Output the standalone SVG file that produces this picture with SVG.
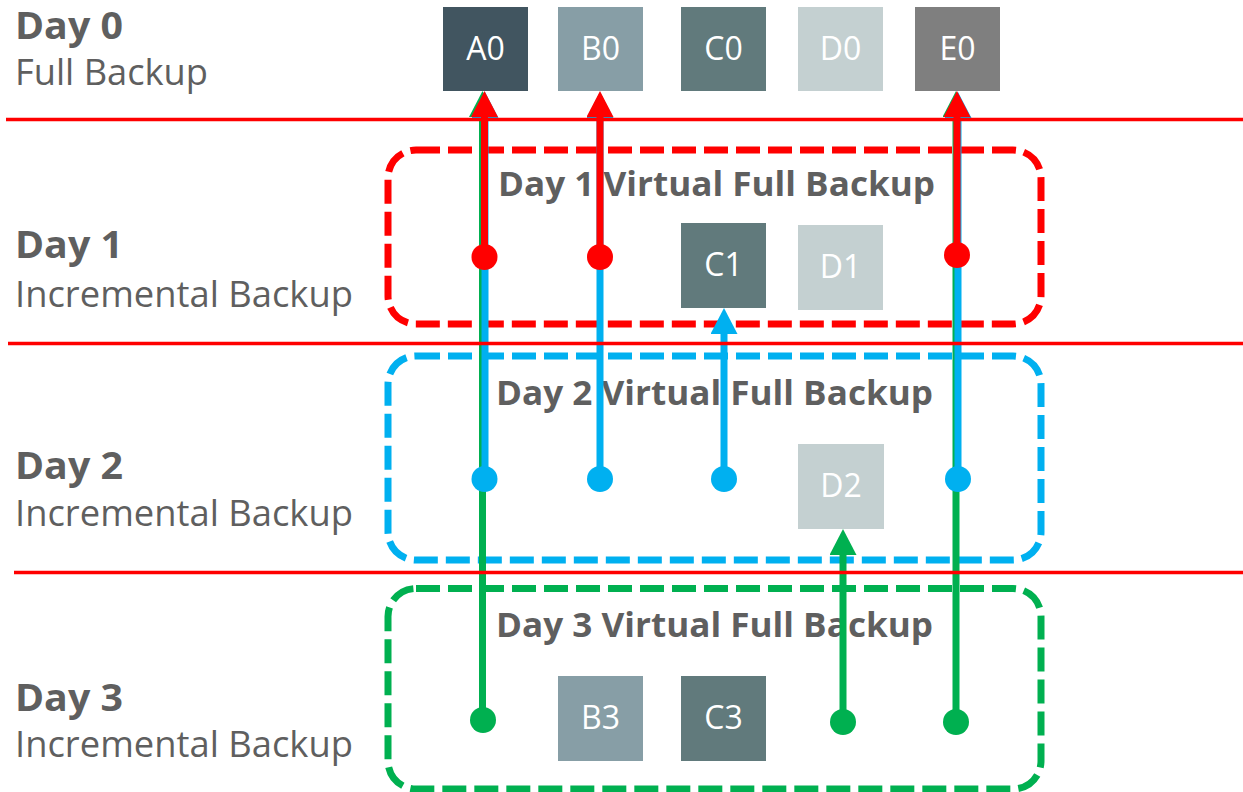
<svg xmlns="http://www.w3.org/2000/svg" width="1243" height="792" viewBox="0 0 1243 792">
<style>
.lbl{font-family:"Open Sans","Liberation Sans",sans-serif;fill:#5f5f5f}
.b{font-weight:bold}
.box text{font-family:"Open Sans","Liberation Sans",sans-serif;font-size:32px;fill:#ffffff;text-anchor:middle}
.cont{fill:none;stroke-width:7;stroke-dasharray:24 8}
.sep{stroke:#ff0000;stroke-width:3.5}
.r{stroke:#ff0000;fill:#ff0000}
.bl{stroke:#00b0f0;fill:#00b0f0}
.g{stroke:#00b050;fill:#00b050}
.conn line{stroke-width:7}
.conn circle{stroke:none}
</style>
<defs>
<marker id="ar" viewBox="0 -13.5 26 27" refX="2" refY="0" markerWidth="26" markerHeight="27" markerUnits="userSpaceOnUse" orient="auto"><path d="M0,-13.5 L26,0 L0,13.5 Z" fill="#ff0000"/></marker>
<marker id="ab" viewBox="0 -13.5 26 27" refX="2" refY="0" markerWidth="26" markerHeight="27" markerUnits="userSpaceOnUse" orient="auto"><path d="M0,-13.5 L26,0 L0,13.5 Z" fill="#00b0f0"/></marker>
<marker id="ag" viewBox="0 -13.5 26 27" refX="2" refY="0" markerWidth="26" markerHeight="27" markerUnits="userSpaceOnUse" orient="auto"><path d="M0,-13.5 L26,0 L0,13.5 Z" fill="#00b050"/></marker>
</defs>
<rect width="1243" height="792" fill="#ffffff"/>

<g id="day1-virtual-full">
<rect class="cont" x="388" y="150" width="653" height="174" rx="28" stroke="#ff0000"/>
<text class="lbl b" x="498" y="196" font-size="34" textLength="437" lengthAdjust="spacingAndGlyphs">Day 1 Virtual Full Backup</text>
</g>
<g id="day2-virtual-full">
<rect class="cont" x="388" y="356" width="653" height="204" rx="28" stroke="#00b0f0"/>
<text class="lbl b" x="496" y="405" font-size="34" textLength="437" lengthAdjust="spacingAndGlyphs">Day 2 Virtual Full Backup</text>
</g>
<g id="day3-virtual-full">
<rect class="cont" x="388" y="588.5" width="653" height="200.5" rx="28" stroke="#00b050"/>
<text class="lbl b" x="496" y="637" font-size="34" textLength="437" lengthAdjust="spacingAndGlyphs">Day 3 Virtual Full Backup</text>
</g>

<g id="A0" class="box"><rect x="443" y="7" width="85" height="84" fill="#415560"/><text x="485.5" y="60">A0</text></g>
<g id="B0" class="box"><rect x="558" y="7" width="85" height="84" fill="#879ea6"/><text x="600.5" y="60">B0</text></g>
<g id="C0" class="box"><rect x="681" y="7" width="85" height="84" fill="#617a7c"/><text x="723.5" y="60">C0</text></g>
<g id="D0" class="box"><rect x="798" y="7" width="85" height="84" fill="#c4d0d1"/><text x="840.5" y="60">D0</text></g>
<g id="E0" class="box"><rect x="915" y="7" width="85" height="84" fill="#7f7f7f"/><text x="957.5" y="60">E0</text></g>
<g id="C1" class="box"><rect x="681" y="223" width="85" height="85" fill="#617a7c"/><text x="723.5" y="276">C1</text></g>
<g id="D1" class="box"><rect x="798" y="225" width="85" height="85" fill="#c4d0d1"/><text x="840.5" y="278">D1</text></g>
<g id="D2" class="box"><rect x="798" y="444" width="86" height="85" fill="#c4d0d1"/><text x="841" y="497">D2</text></g>
<g id="B3" class="box"><rect x="558" y="676" width="85" height="85" fill="#879ea6"/><text x="600.5" y="729">B3</text></g>
<g id="C3" class="box"><rect x="681" y="676" width="85" height="85" fill="#617a7c"/><text x="723.5" y="729">C3</text></g>

<g id="connectors" class="conn">
<g class="g">
<line x1="482.5" y1="720" x2="482.5" y2="115" marker-end="url(#ag)"/>
<circle cx="483" cy="720" r="13"/>
<line x1="956" y1="722" x2="956" y2="115" marker-end="url(#ag)"/>
<circle cx="956" cy="722" r="13"/>
<line x1="843" y1="722" x2="843" y2="553" marker-end="url(#ag)"/>
<circle cx="843" cy="722" r="13"/>
</g>
<g class="bl">
<line x1="485" y1="479" x2="485" y2="116" marker-end="url(#ab)"/>
<circle cx="484.5" cy="479" r="13"/>
<line x1="600" y1="479" x2="600" y2="116" marker-end="url(#ab)"/>
<circle cx="600" cy="479" r="13"/>
<line x1="724" y1="479" x2="724" y2="332" marker-end="url(#ab)"/>
<circle cx="724" cy="479" r="13"/>
<line x1="958" y1="479" x2="958" y2="116" marker-end="url(#ab)"/>
<circle cx="958" cy="479" r="13"/>
</g>
<g class="r">
<line x1="484.5" y1="257" x2="484.5" y2="115" marker-end="url(#ar)"/>
<circle cx="484.5" cy="257" r="13"/>
<line x1="600" y1="257" x2="600" y2="115" marker-end="url(#ar)"/>
<circle cx="600" cy="257" r="13"/>
<line x1="957" y1="255" x2="957" y2="115" marker-end="url(#ar)"/>
<circle cx="957" cy="255" r="13"/>
</g>
</g>

<g id="separators">
<line class="sep" x1="6" y1="119.5" x2="1243" y2="119.5"/>
<line class="sep" x1="8" y1="343.5" x2="1243" y2="343.5"/>
<line class="sep" x1="14" y1="572.5" x2="1243" y2="572.5"/>
</g>

<g id="day0-label">
<text class="lbl b" x="15" y="39" font-size="37" textLength="108" lengthAdjust="spacingAndGlyphs">Day 0</text>
<text class="lbl" x="15" y="85" font-size="36" textLength="193" lengthAdjust="spacingAndGlyphs">Full Backup</text>
</g>
<g id="day1-label">
<text class="lbl b" x="15" y="258" font-size="37" textLength="108" lengthAdjust="spacingAndGlyphs">Day 1</text>
<text class="lbl" x="15" y="307" font-size="36" textLength="338" lengthAdjust="spacingAndGlyphs">Incremental Backup</text>
</g>
<g id="day2-label">
<text class="lbl b" x="15" y="479" font-size="37" textLength="108" lengthAdjust="spacingAndGlyphs">Day 2</text>
<text class="lbl" x="15" y="526" font-size="36" textLength="338" lengthAdjust="spacingAndGlyphs">Incremental Backup</text>
</g>
<g id="day3-label">
<text class="lbl b" x="15" y="711" font-size="37" textLength="108" lengthAdjust="spacingAndGlyphs">Day 3</text>
<text class="lbl" x="15" y="757" font-size="36" textLength="338" lengthAdjust="spacingAndGlyphs">Incremental Backup</text>
</g>
</svg>
